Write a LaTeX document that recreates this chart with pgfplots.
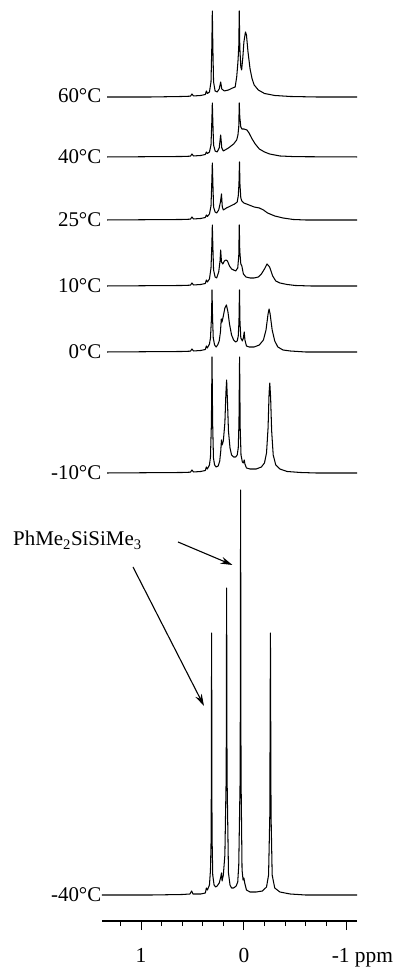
\documentclass[border=0pt]{standalone}
\usepackage{fontspec}
\setmainfont{Liberation Serif}
\usepackage{pgfplots}
\pgfplotsset{compat=1.18}
\usetikzlibrary{arrows.meta}
\begin{document}
\begin{tikzpicture}[x=1bp,y=1bp]
\useasboundingbox (0,0) rectangle (393,967);
\begin{axis}[
  at={(102bp,46bp)}, anchor=south west,
  scale only axis, width=255bp, height=921bp,
  xmin=-1.10, xmax=1.38, ymin=0, ymax=921,
  x dir=reverse, clip=false,
  axis x line*=bottom, hide y axis,
  xtick={-1,0,1},
  xticklabels={{\hspace*{-12bp}-1\rlap{ ppm}},0,1},
  minor xtick={-0.8,-0.6,-0.4,-0.2,0.2,0.4,0.6,0.8,1.2},
  tick align=outside,
  major tick length=9bp, minor tick length=5bp,
  every tick/.style={black, line width=1pt},
  axis line style={line width=1.6pt},
  tick label style={font=\fontsize{21.5}{25}\selectfont},
  xticklabel style={yshift=-15bp},
  sp/.style={black, solid, mark=none, line width=1.05pt, line join=round},
]
% 60 C
\addplot[sp] coordinates {(1.33,824) (0.9,824) (0.6,824.5) (0.52,824.8) (0.505,827) (0.49,825) (0.42,825.5) (0.375,826.5) (0.365,830) (0.355,827.5) (0.335,829) (0.32,839) (0.312,874) (0.307,910) (0.302,874) (0.295,839) (0.28,830) (0.26,829) (0.24,832) (0.226,839) (0.215,832) (0.19,830) (0.15,831) (0.11,833) (0.085,834) (0.07,844) (0.058,859) (0.05,874) (0.045,910) (0.040,874) (0.03,854) (0.022,851) (0.01,864) (0.0,879) (-0.015,889) (-0.025,886) (-0.04,869) (-0.06,852) (-0.08,842) (-0.10,836) (-0.14,831) (-0.20,827.5) (-0.30,825.5) (-0.45,824.5) (-0.7,824) (-1.10,824)};
% 40 C
\addplot[sp] coordinates {(1.33,764) (0.6,764.5) (0.52,764.8) (0.505,767) (0.49,765) (0.42,765.5) (0.375,766.5) (0.365,769) (0.355,767.5) (0.335,769) (0.32,776) (0.312,799) (0.307,818) (0.302,799) (0.295,776) (0.28,770) (0.26,769) (0.24,773) (0.226,786) (0.215,773) (0.20,770) (0.15,773) (0.10,777) (0.07,781) (0.058,786) (0.05,794) (0.045,818) (0.04,804) (0.03,794) (0.02,792) (0.0,792) (-0.03,791) (-0.05,788) (-0.08,782) (-0.11,777) (-0.15,772) (-0.20,769) (-0.25,767) (-0.35,765) (-0.5,764.3) (-1.10,764)};
% 25 C
\addplot[sp] coordinates {(1.33,701) (0.6,701.5) (0.52,701.8) (0.505,704) (0.49,702) (0.42,702.5) (0.375,703.5) (0.365,706) (0.355,704.5) (0.335,707) (0.32,715) (0.312,739) (0.307,758) (0.302,739) (0.295,714) (0.28,709) (0.265,708) (0.245,711) (0.228,719) (0.218,727) (0.21,714) (0.20,711) (0.17,713) (0.13,715) (0.09,717) (0.065,719) (0.055,725) (0.048,737) (0.043,759) (0.038,736) (0.03,723) (0.02,720) (0.0,718) (-0.05,716) (-0.10,714) (-0.15,713) (-0.19,711) (-0.23,708) (-0.30,705) (-0.38,703) (-0.48,701.5) (-0.6,701) (-1.10,701)};
% 10 C
\addplot[sp] coordinates {(1.33,635) (0.6,635.5) (0.52,635.8) (0.505,638) (0.49,636) (0.42,636.5) (0.375,637.5) (0.365,641) (0.355,639) (0.335,642) (0.32,653) (0.312,675) (0.307,696) (0.302,675) (0.295,651) (0.28,644) (0.265,643) (0.245,649) (0.232,660) (0.226,671) (0.218,659) (0.205,657) (0.19,660) (0.175,661) (0.16,660) (0.14,655) (0.12,652) (0.10,651) (0.08,650) (0.06,653) (0.05,665) (0.045,696) (0.04,670) (0.03,657) (0.02,655) (0.005,647) (-0.02,644) (-0.06,643) (-0.10,643) (-0.14,644) (-0.17,647) (-0.20,652) (-0.225,657) (-0.25,654) (-0.28,645) (-0.31,640) (-0.35,638) (-0.42,636.5) (-0.5,635.5) (-0.65,635) (-1.10,635)};
% 0 C
\addplot[sp] coordinates {(1.33,569) (0.6,569.5) (0.52,569.8) (0.505,572) (0.49,570) (0.42,570.5) (0.375,571.5) (0.365,575) (0.355,573) (0.335,577) (0.325,583) (0.315,604) (0.310,631) (0.305,604) (0.298,583) (0.285,576) (0.27,574) (0.255,576) (0.24,580) (0.228,589) (0.220,602) (0.213,599) (0.20,605) (0.185,613) (0.170,616) (0.155,609) (0.14,597) (0.12,586) (0.10,581) (0.08,579) (0.065,580) (0.055,585) (0.048,599) (0.043,631) (0.038,599) (0.03,583) (0.015,580) (0.005,583) (-0.003,589) (-0.01,581) (-0.025,575) (-0.05,574) (-0.10,574) (-0.15,576) (-0.19,581) (-0.215,591) (-0.235,607) (-0.245,612) (-0.255,607) (-0.275,591) (-0.30,580) (-0.33,574) (-0.38,571) (-0.45,570) (-0.6,569) (-1.10,569)};
% -10 C
\addplot[sp] coordinates {(1.33,448) (0.6,448.5) (0.52,448.8) (0.505,451) (0.49,449) (0.42,449.5) (0.375,450.5) (0.365,454) (0.355,452) (0.335,456) (0.325,464) (0.316,498) (0.310,564) (0.304,498) (0.296,463) (0.285,456) (0.27,454) (0.25,455) (0.235,460) (0.225,470) (0.218,481) (0.212,476) (0.20,480) (0.185,498) (0.175,528) (0.168,541) (0.161,523) (0.15,490) (0.135,473) (0.12,466) (0.10,464) (0.08,464) (0.065,466) (0.055,473) (0.048,498) (0.042,564) (0.036,493) (0.028,466) (0.015,459) (0.004,458) (-0.003,461) (-0.01,457) (-0.025,453) (-0.06,452) (-0.12,452) (-0.17,454) (-0.20,458) (-0.22,468) (-0.235,493) (-0.245,528) (-0.252,538) (-0.26,523) (-0.27,490) (-0.285,466) (-0.31,456) (-0.35,452) (-0.42,449.5) (-0.55,448.5) (-0.7,448) (-1.10,448)};
% -40 C
\addplot[sp] coordinates {(1.38,26) (0.9,26) (0.6,26.5) (0.525,27) (0.508,30) (0.495,27) (0.42,27) (0.375,28) (0.365,33) (0.355,31) (0.335,36) (0.325,51) (0.318,86) (0.314,288) (0.310,86) (0.303,46) (0.29,36) (0.275,34) (0.26,35) (0.24,38) (0.225,44) (0.218,48) (0.212,40) (0.20,46) (0.185,66) (0.172,146) (0.168,333) (0.164,146) (0.15,48) (0.135,36) (0.12,33) (0.10,33) (0.075,35) (0.06,39) (0.05,56) (0.036,146) (0.032,431) (0.028,146) (0.018,51) (0.008,41) (0.0,43) (-0.008,38) (-0.025,31) (-0.06,29) (-0.12,29) (-0.18,30) (-0.22,34) (-0.24,46) (-0.252,106) (-0.258,288) (-0.264,106) (-0.275,46) (-0.30,33) (-0.35,29) (-0.45,27) (-0.6,26) (-1.10,26)};
\end{axis}
\begin{scope}[every node/.style={font=\fontsize{21}{25}\selectfont, inner sep=0pt, anchor=east}]
\node at (101.5,871) {60°C};
\node at (101.5,810) {40°C};
\node at (101.5,747) {25°C};
\node at (101.5,681) {10°C};
\node at (101.5,615) {0°C};
\node at (101.5,494) {-10°C};
\node at (101.5,72) {-40°C};
\node[anchor=base west] at (13,421) {PhMe\textsubscript{2}SiSiMe\textsubscript{3}};
\end{scope}
\draw[line width=1.1pt, -{Stealth[length=12bp,width=7bp]}] (178,425) -- (232.5,402);
\draw[line width=1.1pt, -{Stealth[length=12bp,width=7bp]}] (133,400) -- (204,261);
\end{tikzpicture}
\end{document}
